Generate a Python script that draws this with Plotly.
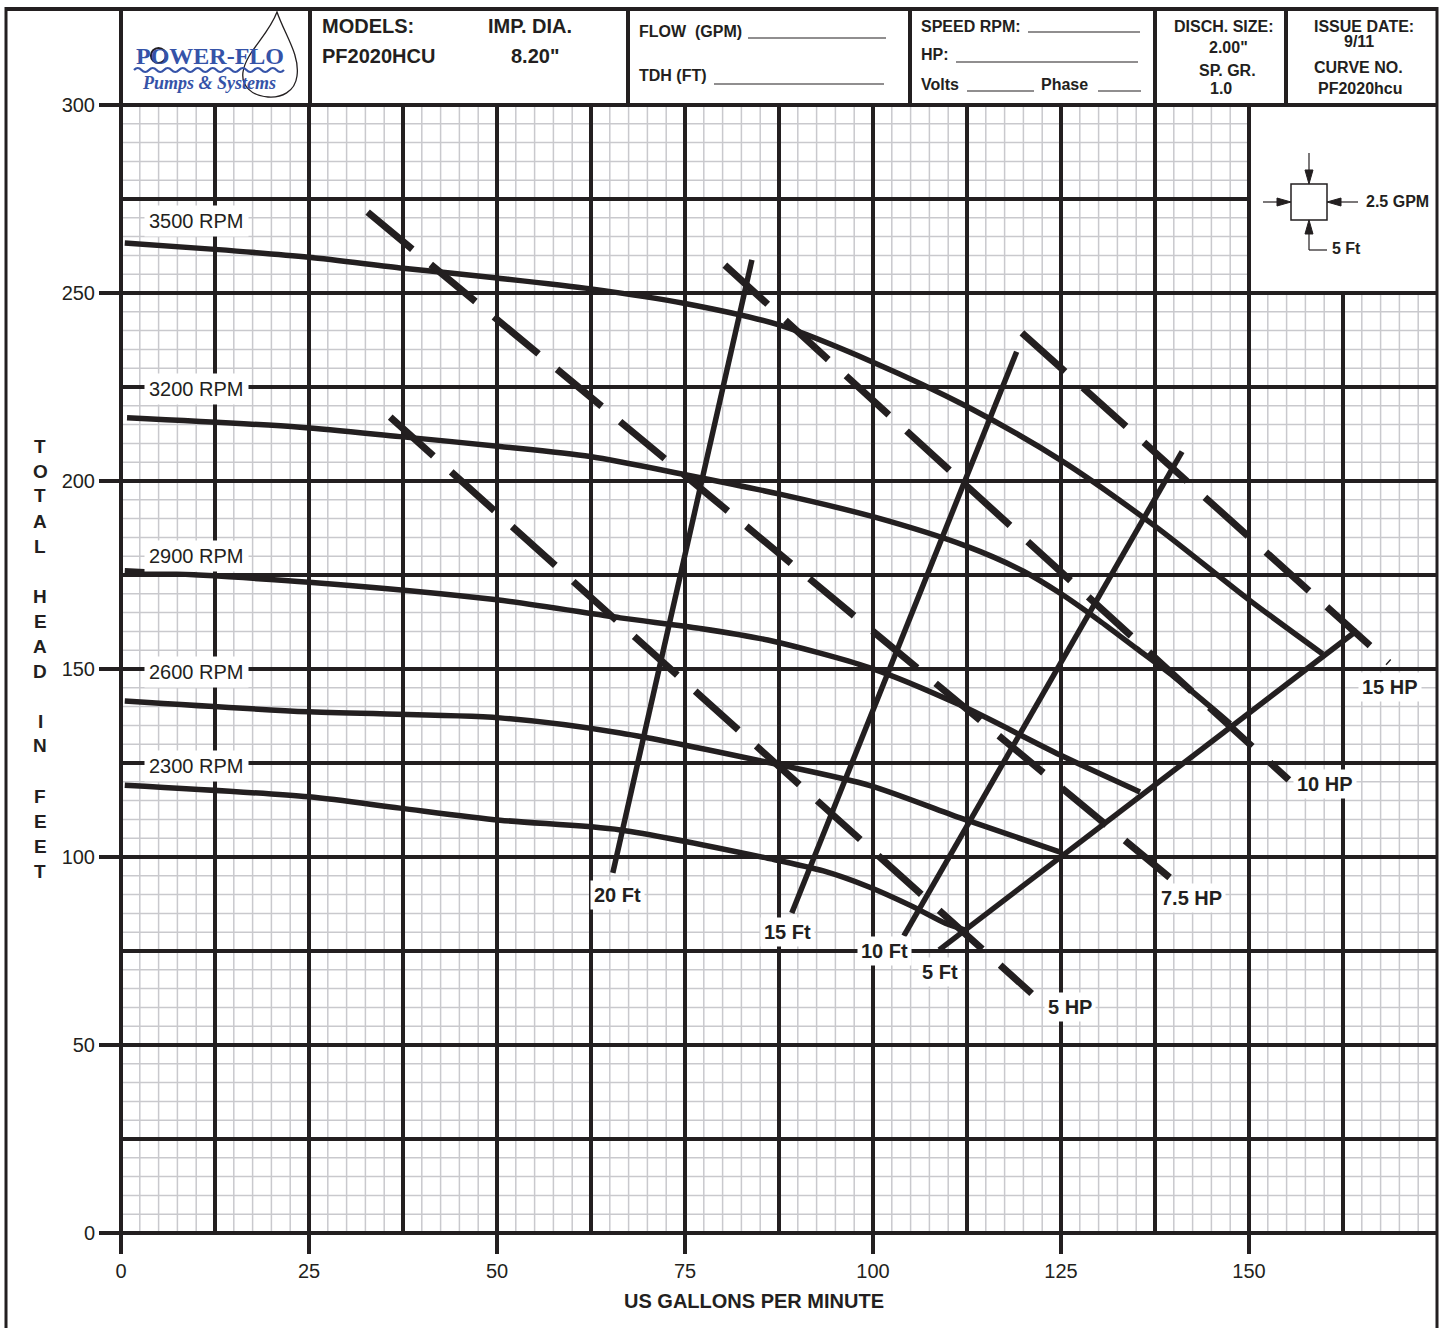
import plotly.graph_objects as go

# ---------------- DATA ----------------
rpm_labels = ["3500 RPM", "3200 RPM", "2900 RPM", "2600 RPM", "2300 RPM"]

flow_3500 = [0.5, 12.5, 25, 37.5, 50, 62.5, 75, 87.5, 100, 112.5, 125, 137.5, 150, 159.8]
head_3500 = [263.3, 261.6, 259.5, 256.6, 254.0, 251.1, 247.2, 241.5, 231.6, 219.8, 205.5, 188.0, 168.4, 154.0]

flow_3200 = [0.8, 23.8, 37.1, 50.4, 62.4, 75.2, 87.6, 100, 112.5, 120, 125, 130, 135, 140, 147.5]
head_3200 = [216.8, 214.3, 211.8, 209.2, 206.5, 201.6, 196.5, 190.5, 182.6, 176.0, 170.0, 163.0, 155.5, 148.0, 135.5]

flow_2900 = [0.5, 25, 50, 66.4, 77, 86, 99.6, 111.6, 124.9, 135.5]
head_2900 = [176.1, 173.1, 168.4, 163.6, 160.8, 157.7, 150.3, 140.4, 127.1, 117.3]

flow_2600 = [0.5, 25, 50.4, 66.4, 87.6, 99.6, 111.6, 124.9]
head_2600 = [141.5, 138.6, 137.0, 133.0, 124.5, 119.0, 110.4, 101.3]

flow_2300 = [0.5, 25, 37.1, 50.4, 66.4, 86.4, 93.4, 99.4, 105.1, 109.7, 112.2]
head_2300 = [119.1, 116.0, 113.0, 109.8, 107.2, 99.5, 96.3, 92.1, 87.0, 82.3, 80.6]

hp_labels = ["5 HP", "7.5 HP", "10 HP", "15 HP"]
hp_flow = [[35.8, 121.1], [32.8, 140.2], [80.3, 155.3], [119.8, 168.6]]
hp_head = [[217.0, 63.7], [271.5, 93.3], [257.4, 120.5], [239.4, 151.7]]

npsh_labels = ["20 Ft", "15 Ft", "10 Ft", "5 Ft"]
npsh_flow = [[65.4, 83.9], [89.2, 119.1], [104.1, 141.1], [108.8, 164.4]]
npsh_head = [[95.8, 258.8], [85.1, 234.4], [79.0, 207.8], [75.3, 160.3]]

x_ticks = [0, 25, 50, 75, 100, 125, 150]
y_ticks = [0, 50, 100, 150, 200, 250, 300]

# label anchor positions (data units)
rpm_lab_x = [10.1, 10.1, 10.1, 10.1, 10.1]
rpm_lab_y = [269.1, 224.5, 180.0, 149.2, 124.2]
hp_lab_x = [126.2, 142.4, 160.1, 168.8]
hp_lab_y = [60.1, 89.1, 119.4, 145.2]
npsh_lab_x = [66.0, 88.6, 101.5, 108.9]
npsh_lab_y = [89.9, 80.1, 75.0, 69.4]

# ---------------- LAYOUT GEOMETRY ----------------
W, H = 1445, 1328
ML, MR, MT, MB = 121, 9, 105, 95
PXPERGPM = 7.52
XMAX = (W - ML - MR) / PXPERGPM
INK = "#231f20"
GRID_MINOR = "#c9c9cd"
BLUE = "#3553a8"
FONT = "Liberation Sans, Arial, Helvetica, sans-serif"


def PX(px):
    return (px - ML) / (W - ML - MR)


def PY(py):
    return (H - MB - py) / (H - MT - MB)


fig = go.Figure()

curves = [(flow_3500, head_3500), (flow_3200, head_3200), (flow_2900, head_2900),
          (flow_2600, head_2600), (flow_2300, head_2300)]
for fx, hy in curves:
    fig.add_trace(go.Scatter(x=fx, y=hy, mode="lines",
                             line=dict(color=INK, width=5.5, shape="spline", smoothing=0.8),
                             hoverinfo="skip"))

for fx, hy in zip(hp_flow, hp_head):
    fig.add_trace(go.Scatter(x=fx, y=hy, mode="lines",
                             line=dict(color=INK, width=7, dash="58px,24px"),
                             hoverinfo="skip"))

for fx, hy in zip(npsh_flow, npsh_head):
    fig.add_trace(go.Scatter(x=fx, y=hy, mode="lines",
                             line=dict(color=INK, width=5.5),
                             hoverinfo="skip"))

shapes = []
# minor grid
k = 0
while 2.5 * k <= XMAX:
    shapes.append(dict(type="line", xref="x", yref="y", x0=2.5 * k, x1=2.5 * k, y0=0, y1=300,
                       line=dict(color=GRID_MINOR, width=1.5), layer="below"))
    k += 1
for k in range(61):
    shapes.append(dict(type="line", xref="x", yref="y", x0=0, x1=XMAX, y0=5 * k, y1=5 * k,
                       line=dict(color=GRID_MINOR, width=1.5), layer="below"))
# major grid
for k in range(14):
    shapes.append(dict(type="line", xref="x", yref="y", x0=12.5 * k, x1=12.5 * k, y0=0, y1=300,
                       line=dict(color=INK, width=4), layer="below"))
for k in range(13):
    shapes.append(dict(type="line", xref="x", yref="y", x0=0, x1=XMAX, y0=25 * k, y1=25 * k,
                       line=dict(color=INK, width=4), layer="below"))
# white scale box in upper right
shapes.append(dict(type="rect", xref="x", yref="y", x0=150, x1=XMAX + 2, y0=250, y1=302,
                   fillcolor="white", line=dict(color=INK, width=4), layer="below"))


def pline(x0, y0, x1, y1, w=4, color=INK):
    shapes.append(dict(type="line", xref="paper", yref="paper",
                       x0=PX(x0), y0=PY(y0), x1=PX(x1), y1=PY(y1),
                       line=dict(color=color, width=w), layer="above"))


def ppath(pts, closed=True, fill=None, w=1.5, color=INK):
    d = "M " + " L ".join(f"{PX(a):.5f},{PY(b):.5f}" for a, b in pts)
    if closed:
        d += " Z"
    shapes.append(dict(type="path", xref="paper", yref="paper", path=d,
                       fillcolor=fill if fill else "rgba(0,0,0,0)",
                       line=dict(color=color, width=w), layer="above"))


# outer frame and header
pline(6, 9, 1437, 9, 4)
pline(6, 7, 6, 1328, 3)
pline(1437, 7, 1437, 1328, 3)
pline(121, 105, 1437, 105, 4)
pline(121, 7, 121, 1233, 4)
pline(119, 1233, 1437, 1233, 4)
for xd in [310, 628, 910, 1155, 1286]:
    pline(xd, 7, xd, 105, 4)

# header underlines
for (a, b, y) in [(748, 886, 38), (714, 884, 84), (1028, 1140, 32), (956, 1138, 62),
                  (967, 1034, 91), (1098, 1141, 91)]:
    pline(a, y, b, y, 1.2)

# scale box symbol
shapes.append(dict(type="rect", xref="paper", yref="paper", x0=PX(1291), x1=PX(1327),
                   y0=PY(220), y1=PY(184), line=dict(color=INK, width=1.5),
                   fillcolor="white", layer="above"))
pline(1309, 153, 1309, 175, 1.2)
ppath([(1305, 170), (1313, 170), (1309, 184)], fill=INK, w=1)
pline(1309, 230, 1309, 250, 1.2)
pline(1309, 250, 1327, 250, 1.2)
ppath([(1305, 234), (1313, 234), (1309, 220)], fill=INK, w=1)
pline(1263, 202, 1280, 202, 1.2)
ppath([(1277, 198), (1277, 206), (1291, 202)], fill=INK, w=1)
pline(1340, 202, 1358, 202, 1.2)
ppath([(1341, 198), (1341, 206), (1327, 202)], fill=INK, w=1)

# logo: drop outline
drop = ("M {a},{b} C {c},{d} {e},{f} {g},{h} C {i},{j} {k},{l} {m},{n} "
        "C {o},{p} {q},{r} {s},{t} C {u},{v} {w},{x} {a},{b} Z")
pts = dict(a=PX(277), b=PY(12), c=PX(285), d=PY(35), e=PX(300), f=PY(55), g=PX(297), h=PY(76),
           i=PX(295), j=PY(92), k=PX(281), l=PY(98), m=PX(268), n=PY(97),
           o=PX(252), p=PY(96), q=PX(241), r=PY(86), s=PX(243), t=PY(72),
           u=PX(246), v=PY(52), w=PX(268), x=PY(36))
shapes.append(dict(type="path", xref="paper", yref="paper",
                   path=drop.format(**{kk: f"{vv:.5f}" for kk, vv in pts.items()}),
                   line=dict(color=INK, width=1.3), fillcolor="rgba(0,0,0,0)", layer="above"))
# logo wave
wave = f"M {PX(134):.5f},{PY(70):.5f}"
xw = 134
up = True
while xw < 283:
    xn = xw + 7.5
    wave += f" Q {PX(xw + 3.75):.5f},{PY(66 if up else 74):.5f} {PX(xn):.5f},{PY(70):.5f}"
    xw = xn
    up = not up
shapes.append(dict(type="path", xref="paper", yref="paper", path=wave,
                   line=dict(color=BLUE, width=2.2), layer="above"))
shapes.append(dict(type="circle", xref="paper", yref="paper", x0=PX(151), x1=PX(166),
                   y0=PY(63), y1=PY(48), line=dict(color=INK, width=2.2), layer="above"))

annotations = []


def ptext(txt, x, y, size=16, bold=True, anchor="left", color=INK, family=FONT, italic=False):
    t = f"<b>{txt}</b>" if bold else txt
    if italic:
        t = f"<i>{t}</i>"
    annotations.append(dict(text=t, xref="paper", yref="paper", x=PX(x), y=PY(y),
                            xanchor=anchor, yanchor="middle", showarrow=False,
                            font=dict(size=size, color=color, family=family)))


ptext("POWER-FLO", 210, 56, size=24, color=BLUE, family="Liberation Serif, Times New Roman, serif",
      anchor="center")
ptext("Pumps &amp; Systems", 209, 83, size=18, color=BLUE,
      family="Liberation Serif, Times New Roman, serif", anchor="center", italic=True)
ptext("MODELS:", 320, 26, size=20)
ptext("IMP. DIA.", 486, 26, size=20)
ptext("PF2020HCU", 320, 56, size=20)
ptext("8.20\"", 509, 56, size=20)
ptext("FLOW&nbsp;&nbsp;(GPM)", 637, 31)
ptext("TDH (FT)", 637, 76)
ptext("SPEED RPM:", 919, 26)
ptext("HP:", 919, 55)
ptext("Volts", 919, 84)
ptext("Phase", 1039, 84)
ptext("DISCH. SIZE:", 1224, 26, anchor="center")
ptext("2.00\"", 1228, 47, anchor="center")
ptext("SP. GR.", 1227, 71, anchor="center")
ptext("1.0", 1221, 89, anchor="center")
ptext("ISSUE DATE:", 1364, 26, anchor="center")
ptext("9/11", 1359, 42, anchor="center")
ptext("CURVE NO.", 1358, 67, anchor="center")
ptext("PF2020hcu", 1360, 89, anchor="center")
ptext("2.5 GPM", 1364, 201, size=16)
ptext("5 Ft", 1330, 249, size=16)
ptext("US GALLONS PER MINUTE", 754, 1301, size=20, anchor="center")

# vertical axis title, stacked letters
ylab = "TOTAL HEAD IN FEET"
yy = 446
for ch in ylab:
    if ch == " ":
        yy += 25
        continue
    ptext(ch, 40, yy, size=19, anchor="center")
    yy += 25

# curve labels (white background)
for txt, x, y in zip(rpm_labels, rpm_lab_x, rpm_lab_y):
    annotations.append(dict(text=txt, x=x, y=y, xref="x", yref="y", showarrow=False,
                            font=dict(size=20, color=INK, family=FONT),
                            bgcolor="white", borderpad=4))
for txt, x, y in zip(hp_labels + npsh_labels, hp_lab_x + npsh_lab_x, hp_lab_y + npsh_lab_y):
    annotations.append(dict(text=f"<b>{txt}</b>", x=x, y=y, xref="x", yref="y", showarrow=False,
                            font=dict(size=20, color=INK, family=FONT),
                            bgcolor="white", borderpad=3))

fig.update_layout(
    width=W, height=H,
    margin=dict(l=ML, r=MR, t=MT, b=MB, pad=0),
    plot_bgcolor="white", paper_bgcolor="white",
    showlegend=False,
    shapes=shapes,
    annotations=annotations,
    xaxis=dict(range=[0, XMAX], showgrid=False, zeroline=False, showline=False,
               tickvals=x_ticks, ticks="outside", ticklen=20, tickwidth=4, tickcolor=INK,
               tickfont=dict(size=20, color=INK, family=FONT), fixedrange=True),
    yaxis=dict(range=[0, 300], showgrid=False, zeroline=False, showline=False,
               tickvals=y_ticks, ticks="outside", ticklen=21, tickwidth=4, tickcolor=INK,
               tickfont=dict(size=20, color=INK, family=FONT), fixedrange=True),
)

fig.write_html("out.html", config={"displayModeBar": False, "staticPlot": True},
               post_script="document.body.style.margin='0';document.body.style.overflow='hidden';")
